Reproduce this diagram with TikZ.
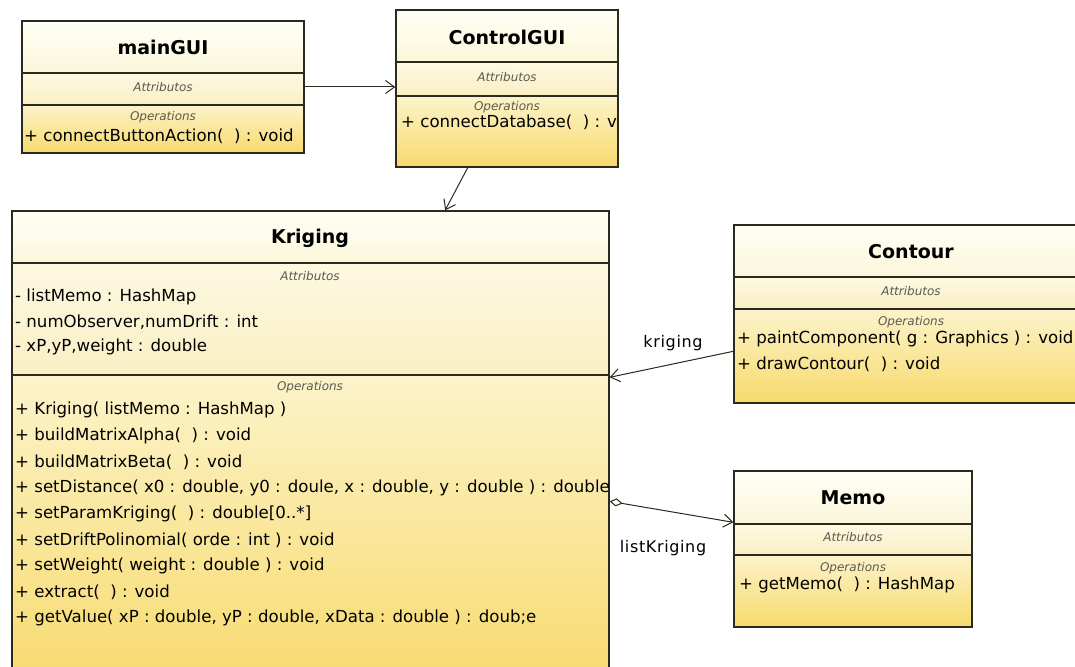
\documentclass[tikz,border=0pt]{standalone}
\usepackage{fontspec}
\setmainfont{DejaVu Sans}
\newfontfamily\relfont[LetterSpace=4]{DejaVu Sans}
\usetikzlibrary{arrows.meta,calc,fit}
\definecolor{lineclr}{HTML}{2A2A1E}
\definecolor{titletop}{HTML}{FFFFF6}
\definecolor{titlebot}{HTML}{FBF6DA}
\definecolor{attrtop}{HTML}{FDF9E2}
\definecolor{attrbot}{HTML}{FAEFC4}
\definecolor{optop}{HTML}{FCF3CA}
\definecolor{opbot}{HTML}{F7DA6C}
\definecolor{seclbl}{HTML}{5A5A50}
\newcommand\umlbox[7]{%
  \fill[titlefill] (#2,#3) rectangle (#4,#6);
  \fill[attrfill] (#2,#6) rectangle (#4,#7);
  \fill[opfill] (#2,#7) rectangle (#4,#5);
  \draw[sepline] (#2,#6) -- (#4,#6) (#2,#7) -- (#4,#7);
  \node[classbox, fit={(#2,#3) (#4,#5)}] (#1) {};
}
\begin{document}
\begin{tikzpicture}[x=1pt,y=-1pt,
  classbox/.style={draw=lineclr, line width=1.4pt, inner sep=0pt},
  sepline/.style={draw=lineclr, line width=1.2pt},
  titlefill/.style={top color=titletop, bottom color=titlebot},
  attrfill/.style={top color=attrtop, bottom color=attrbot},
  opfill/.style={top color=optop, bottom color=opbot},
  clsname/.style={font=\fontsize{19}{21}\selectfont\bfseries, inner sep=0pt},
  seclabel/.style={font=\fontsize{12}{13}\selectfont\itshape, text=seclbl, inner sep=0pt},
  member/.style={anchor=west, inner sep=0pt, font=\fontsize{16.6}{18}\selectfont},
  rellabel/.style={font=\relfont\fontsize{16}{18}\selectfont, inner sep=0pt},
  assoc/.style={draw=lineclr, line width=1pt, -{Straight Barb[length=9pt,width=13pt,line width=1pt]}},
  aggr/.style={draw=lineclr, line width=1pt, {Diamond[open,length=13pt,width=8pt,line width=1pt]}-{Straight Barb[length=9pt,width=13pt,line width=1pt]}}
]
\useasboundingbox (0,0) rectangle (1075,666);
\clip (0,0) rectangle (1075,666);
\fill[white] (0,0) rectangle (1075,666);

% mainGUI
\umlbox{mainGUI}{22}{21}{304}{153}{73}{105}
\node[clsname] (mainGUI-name) at (163,47) {mainGUI};
\node[seclabel] (mainGUI-attr) at (163,87) {Attributos};
\node[seclabel] (mainGUI-ops) at (163,117) {Operations};
\node[member] (mainGUI-m1) at (24,136) {+ connectButtonAction(~~) : void};

% ControlGUI
\umlbox{ControlGUI}{396}{10}{618}{167}{62}{96}
\node[clsname] (ControlGUI-name) at (507,37) {ControlGUI};
\node[seclabel] (ControlGUI-attr) at (507,77) {Attributos};
\node[seclabel] (ControlGUI-ops) at (507,107) {Operations};
\begin{scope}
\clip (396,10) rectangle (617,167);
\node[member] (ControlGUI-m1) at (401,122) {+ connectDatabase(~~) : void};
\end{scope}

% Kriging
\umlbox{Kriging}{12}{211}{609}{690}{263}{375}
\node[clsname] (Kriging-name) at (310,238) {Kriging};
\node[seclabel] (Kriging-attr) at (310,276) {Attributos};
\node[seclabel] (Kriging-ops) at (310,387) {Operations};
\begin{scope}
\clip (12,211) rectangle (608,690);
\node[member] (Kriging-a1) at (15,297) {- listMemo : HashMap};
\node[member] (Kriging-a2) at (15,322) {- numObserver,numDrift : int};
\node[member] (Kriging-a3) at (15,347) {- xP,yP,weight : double};
\node[member] (Kriging-o1) at (15,410) {+ Kriging( listMemo : HashMap )};
\node[member] (Kriging-o2) at (15,436) {+ buildMatrixAlpha(~~) : void};
\node[member] (Kriging-o3) at (15,462) {+ buildMatrixBeta(~~) : void};
\node[member] (Kriging-o4) at (15,488) {+ setDistance( x0 : double, y0 : doule, x : double, y : double ) : double};
\node[member] (Kriging-o5) at (15,514) {+ setParamKriging(~~) : double[0..*]};
\node[member] (Kriging-o6) at (15,540) {+ setDriftPolinomial( orde : int ) : void};
\node[member] (Kriging-o7) at (15,566) {+ setWeight( weight : double ) : void};
\node[member] (Kriging-o8) at (15,592) {+ extract(~~) : void};
\node[member] (Kriging-o9) at (15,618) {+ getValue( xP : double, yP : double, xData : double ) : doub;e};
\end{scope}

% Contour
\umlbox{Contour}{734}{225}{1088}{403}{277}{309}
\node[clsname] (Contour-name) at (911,252) {Contour};
\node[seclabel] (Contour-attr) at (911,291) {Attributos};
\node[seclabel] (Contour-ops) at (911,322) {Operations};
\node[member] (Contour-o1) at (737,339) {+ paintComponent( g : Graphics ) : void};
\node[member] (Contour-o2) at (737,364) {+ drawContour(~~) : void};

% Memo
\umlbox{Memo}{734}{471}{972}{627}{524}{555}
\node[clsname] (Memo-name) at (853,498) {Memo};
\node[seclabel] (Memo-attr) at (853,537) {Attributos};
\node[seclabel] (Memo-ops) at (853,568) {Operations};
\node[member] (Memo-o1) at (739,585) {+ getMemo(~~) : HashMap};

% connectors
\draw[assoc] (mainGUI.east) -- (mainGUI.east -| ControlGUI.west);
\draw[assoc] ($(ControlGUI.south west)!0.324!(ControlGUI.south east)$) -- ($(Kriging.north west)!0.725!(Kriging.north east)$);
\draw[assoc] ($(Contour.north west)+(0,127)$) -- ($(Kriging.north east)+(0,167)$);
\draw[aggr] ($(Kriging.north east)+(0,291)$) -- ($(Memo.north west)+(0,52)$);
\node[rellabel] (lbl-kriging) at (673,343) {kriging};
\node[rellabel] (lbl-listKriging) at (663,548) {listKriging};
\end{tikzpicture}
\end{document}
